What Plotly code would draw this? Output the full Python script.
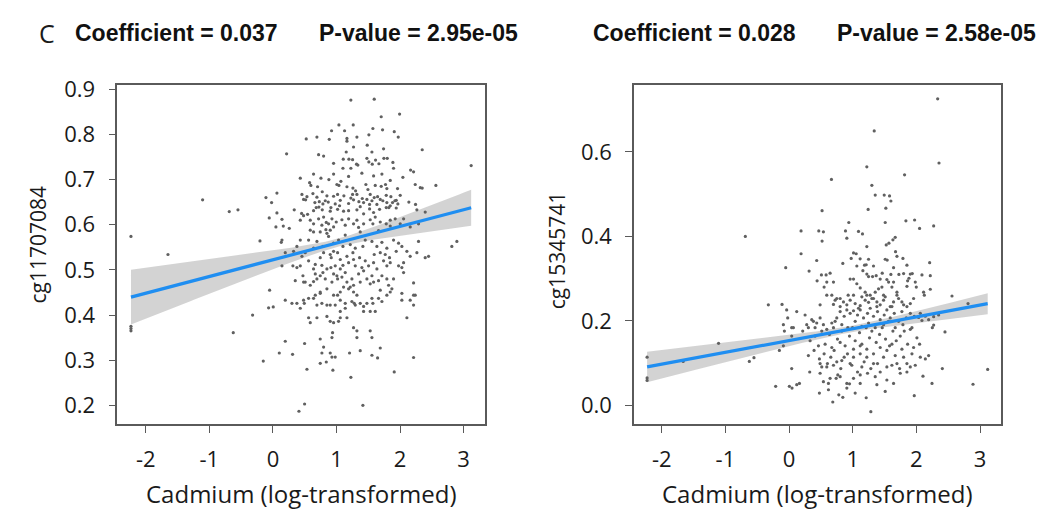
import numpy as np
import plotly.graph_objects as go

# ---- panel 1: cg11707084 vs log cadmium ----
cd_a = [-2.233, -2.233, -2.233, -2.233, -1.651, -1.106, -0.687, -0.550, -0.624, -0.320, -0.152, -0.204, -0.110, -0.021, 0.063, 0.215,
        -0.052, -0.068, 0.005, 0.100, 0.194, 0.309, 0.409, 0.498, 0.535, 0.498,
        1.226, 1.593, 1.703, 1.992, 0.524, 0.692, 0.886, 0.922, 1.038, 1.127, 1.263, 1.164, 1.164,
        1.321, 1.509, 1.572, 1.724, 1.908, 1.971, 1.483, 2.348, 3.118, 0.718, 0.797, 1.106, 1.195, 1.253, 1.315, 1.336,
        1.478, 1.509, 1.562, 1.614, 1.667, 1.745, 1.798, 1.887, 1.226, 1.101, 0.880, 1.190, 1.583, 2.044, 2.165, 2.212,
        0.597, 0.702, 1.006, 1.038, 1.164, 1.258, 1.300, 1.462, 1.494, 1.609, 1.703, 1.771, 1.792, 1.960,
        2.238, 2.317, 2.348, 2.563,
        0.456, 0.535, 0.629, 0.692, 0.776, 0.849, 0.954, 1.017, 1.116, 1.253, 1.321, 1.405,
        1.530, 1.593, 1.646, 1.782, 1.855, 1.939, 2.002,
        0.514, 0.660, 0.729, 0.786, 0.870, 0.980, 1.059, 1.190, 1.268, 1.352, 1.426, 1.520, 1.557, 1.635, 1.729, 1.792,
        1.881, 1.918, 2.138, 2.243,
        0.335, 0.451, 0.545, 0.639, 0.723, 0.776, 0.901, 1.017, 1.111, 1.190, 1.321, 1.426, 1.520, 1.583, 1.677, 1.782,
        1.845, 1.939, 2.264, 2.395,
        -0.058, 0.063, 0.142, 0.163, 0.047, 0.257,
        0.482, 0.587, 0.718, 0.797, 0.839, 0.875, 0.770, 0.901, 0.954, 0.996, 1.085, 1.190, 1.268, 1.347, 1.426, 1.530,
        1.609, 1.688, 1.782, 1.845, 1.923, 2.002, 2.159, 2.290,
        0.142, 0.131, 0.430, 0.561, 0.587, 0.639, 0.692, 0.849, 0.875, 0.954, 1.032, 1.137, 1.216, 1.295, 1.373, 1.452,
        1.557, 1.635, 1.714, 1.792, 1.897, 1.976, 2.028, 2.107, 2.290, 2.448, 2.814, 2.893,
        0.194, 0.325, 0.377, 0.314, 0.456, 0.561, 0.666, 0.744, 0.797, 0.901, 0.917, 1.017, 1.059, 1.164, 1.190, 1.268,
        1.363, 1.452, 1.504, 1.583, 1.688, 1.766, 1.845, 1.976, 2.055, 2.159, 2.264, 2.395, 0.142,
        0.351, 0.472, 0.508, 0.587, 0.666, 0.692, 0.744, 0.786, 0.849, 0.912, 0.954, 1.006, 1.017, 1.059, 1.137, 1.164,
        1.242, 1.268, 1.347, 1.426, 1.478, 1.557, 1.583, 1.661, 1.714, 1.792, 1.819, 2.055, 2.212, 2.212, 2.028, 2.159,
        2.238, 1.059, 1.111, 1.190, 1.268, 1.321, 0.849, 0.954, 0.744, 0.666, 0.561, 0.482, 0.377,
        0.194, 0.299, 0.430, 0.493, 0.561, 0.587, 0.692, 0.744, 0.849, 0.901, 0.980, 1.017, 1.059, 1.137, 1.164, 1.242,
        1.295, 1.373, 1.426, 1.478, 1.557, 1.609, 1.714, 1.792, 1.845, 1.871, 2.028, 2.107, 2.212, 0.849, 0.954, 1.032,
        0.938, 0.928, 1.321, 1.530, 1.557, 0.744, 0.770, 0.797, 0.901, 0.928, 0.980, 0.744, 0.839, 0.943, 1.205, 1.373,
        1.557, 1.646, 1.688, 2.212, 1.226, 1.415, 1.908, 1.321,
        0.639, 0.755, 0.954, 1.069, 1.399, 1.714, 1.845,
        0.482, 0.681, 0.823, 0.912, 1.048, 1.226, 1.373, 1.478, 1.688, 1.824, 1.965,
        0.430, 0.639, 0.744, 0.833, 0.928, 1.137, 1.321, 1.572, 1.661, 1.845, 2.055,
        0.377, 0.508, 0.639, 0.786, 0.954, 1.101, 1.258, 1.415, 1.593, 1.740, 1.834, 1.939,
        0.430, 0.639, 0.770, 0.980, 1.101, 1.295, 1.399, 1.635, 1.792, 2.028,
        0.482, 0.639, 0.823, 0.928, 1.085, 1.216, 1.373, 1.530, 1.688, 1.897,
        0.639, 0.770, 0.901, 1.059, 1.137, 1.279, 1.426, 1.572, 1.661,
        0.692, 1.059, 1.530, 1.268,
        0.430, 0.577, 1.268, 1.557, 1.740, 1.153, 0.954, 1.897]
cg_a = [0.574, 0.375, 0.370, 0.365, 0.534, 0.655, 0.629, 0.633, 0.361, 0.400, 0.298, 0.564, 0.660, 0.649, 0.670, 0.757,
        0.455, 0.416, 0.418, 0.316, 0.342, 0.313, 0.187, 0.203, 0.280, 0.337,
        0.876, 0.878, 0.839, 0.845, 0.790, 0.794, 0.789, 0.808, 0.821, 0.808, 0.821, 0.791, 0.785,
        0.794, 0.799, 0.813, 0.810, 0.806, 0.794, 0.776, 0.766, 0.731, 0.755, 0.752, 0.745, 0.745, 0.744, 0.734, 0.732,
        0.747, 0.739, 0.734, 0.743, 0.735, 0.747, 0.747, 0.738, 0.725, 0.725, 0.700, 0.707, 0.708, 0.705, 0.721, 0.717,
        0.687, 0.684, 0.689, 0.687, 0.684, 0.681, 0.675, 0.689, 0.678, 0.687, 0.685, 0.689, 0.680, 0.680,
        0.689, 0.682, 0.681, 0.687,
        0.667, 0.662, 0.669, 0.661, 0.673, 0.664, 0.663, 0.667, 0.664, 0.667, 0.667, 0.658,
        0.667, 0.660, 0.662, 0.665, 0.662, 0.654, 0.665,
        0.655, 0.649, 0.651, 0.646, 0.650, 0.646, 0.654, 0.647, 0.655, 0.651, 0.649, 0.645, 0.653, 0.645, 0.653, 0.649,
        0.649, 0.653, 0.650, 0.645,
        0.633, 0.625, 0.623, 0.631, 0.639, 0.633, 0.630, 0.634, 0.630, 0.631, 0.633, 0.624, 0.635, 0.627, 0.634, 0.638,
        0.642, 0.637, 0.633, 0.628,
        0.615, 0.626, 0.612, 0.597, 0.595, 0.592,
        0.620, 0.610, 0.613, 0.617, 0.605, 0.602, 0.599, 0.588, 0.595, 0.606, 0.611, 0.613, 0.602, 0.594, 0.602, 0.611,
        0.617, 0.606, 0.602, 0.610, 0.613, 0.602, 0.595, 0.602,
        0.566, 0.561, 0.566, 0.566, 0.588, 0.584, 0.563, 0.581, 0.574, 0.559, 0.566, 0.577, 0.556, 0.548, 0.584, 0.566,
        0.563, 0.552, 0.561, 0.548, 0.566, 0.559, 0.552, 0.541, 0.563, 0.530, 0.552, 0.563,
        0.538, 0.541, 0.505, 0.509, 0.530, 0.520, 0.512, 0.527, 0.538, 0.534, 0.527, 0.538, 0.523, 0.530, 0.516, 0.523,
        0.527, 0.520, 0.509, 0.516, 0.538, 0.534, 0.516, 0.509, 0.516, 0.530, 0.538, 0.527, 0.509,
        0.476, 0.487, 0.473, 0.466, 0.491, 0.480, 0.487, 0.494, 0.502, 0.505, 0.491, 0.487, 0.480, 0.502, 0.494, 0.473,
        0.480, 0.466, 0.491, 0.498, 0.480, 0.487, 0.473, 0.476, 0.487, 0.480, 0.466, 0.494, 0.471, 0.444, 0.433, 0.433,
        0.444, 0.451, 0.462, 0.458, 0.451, 0.444, 0.458, 0.444, 0.451, 0.444, 0.437, 0.433, 0.426,
        0.433, 0.426, 0.415, 0.426, 0.394, 0.383, 0.422, 0.448, 0.422, 0.386, 0.422, 0.444, 0.408, 0.426, 0.394, 0.430,
        0.422, 0.426, 0.408, 0.426, 0.437, 0.408, 0.430, 0.444, 0.451, 0.458, 0.448, 0.394, 0.422, 0.397, 0.383, 0.386,
        0.361, 0.350, 0.365, 0.365, 0.350, 0.347, 0.316, 0.329, 0.316, 0.307, 0.307, 0.293, 0.296, 0.278, 0.316, 0.321,
        0.311, 0.305, 0.327, 0.306, 0.262, 0.200, 0.274, 0.350,
        0.712, 0.703, 0.712, 0.696, 0.714, 0.712, 0.698,
        0.656, 0.638, 0.653, 0.638, 0.642, 0.659, 0.640, 0.656, 0.656, 0.638, 0.646,
        0.610, 0.602, 0.584, 0.589, 0.613, 0.599, 0.610, 0.602, 0.587, 0.597, 0.613,
        0.552, 0.538, 0.548, 0.552, 0.541, 0.552, 0.538, 0.552, 0.534, 0.520, 0.527, 0.541,
        0.509, 0.502, 0.510, 0.509, 0.510, 0.509, 0.505, 0.502, 0.509, 0.505,
        0.473, 0.474, 0.480, 0.473, 0.484, 0.462, 0.473, 0.469, 0.455, 0.480,
        0.437, 0.426, 0.422, 0.433, 0.415, 0.426, 0.419, 0.426, 0.437,
        0.394, 0.394, 0.408, 0.372,
        0.703, 0.693, 0.772, 0.761, 0.768, 0.761, 0.736, 0.725]

# ---- panel 2: cg15345741 vs log cadmium ----
cd_b = [2.335, 1.338, 2.356, 1.222, 1.815, 0.666, 1.301, 1.354, 1.495, 1.579, 1.600, 0.519, 1.243, 1.521, -0.687, 0.939,
        1.511, 1.836, 1.973, 2.051, 2.272, 0.189, 0.467, 0.540, 0.519, 0.887, 0.908, 1.091, 1.154, 1.527, 1.569, 1.632,
        1.668, 0.189, -0.052, 0.435, 0.315, 0.509, 0.582, 0.645, 0.441,
        0.845, 0.976, 1.055, 1.117, 1.186, 1.212, 1.249,
        1.511, 1.542, 1.673, 1.789, 1.852, 1.936, 2.088, 2.209, 2.219, 2.219,
        1.160, 1.249, 1.312, 1.369, 1.464, 1.537, 1.600, 1.726, 1.800, 1.884, 1.905,
        0.551, 0.593, 0.672, 0.724, 0.929, 1.013, 1.065, 1.118, 1.196,
        1.222, 1.301, 1.354, 1.406, 1.459, 1.511, 1.564, 1.616, 1.695, 1.863, 1.852, 1.983, 1.999, 2.114, 2.125,
        2.560, 2.812, -0.325, -0.110, -0.021, -0.037, 0.068, 0.042, 0.121, 0.252, 0.304, 0.357, 0.435,
        -0.089, -0.073, 0.042, -1.107, -1.663, -0.624, -0.551, -2.230, -2.230, -2.230, -0.152, -0.089,
        -0.210, 0.005, 0.047, 0.121, 0.163, 0.042,
        0.325, 0.488, 0.514, 0.593, 0.477, 0.619, 0.687, 0.782, 0.845,
        0.740, 0.766, 0.908, 0.950, 1.039, 1.212, 1.285, 1.511, 1.967, 2.104, 2.246, 2.408, 2.890, 3.121,
        2.450, 2.251, 2.272, 2.036, 2.088, 2.193, 2.272, 2.350,
        0.278, 0.383, 0.488, 0.540, 0.672, 0.750, 0.803, 0.866, 0.908, 0.960, 1.013, 1.076, 1.118, 1.170, 1.233, 1.275,
        1.327, 1.390, 1.432, 1.495, 1.537, 1.590, 1.653, 1.721, 1.773, 1.842, 1.905, 1.967, 2.062, 2.141,
        0.215, 0.331, 0.409, 0.514, 0.567, 0.635, 0.698, 0.761, 0.829, 0.881, 0.950, 0.997, 1.039, 1.107, 1.144, 1.212,
        1.264, 1.301, 1.369, 1.422, 1.464, 1.516, 1.579, 1.632, 1.684, 1.747, 1.810, 1.863, 1.931, 2.009, 2.051,
        0.304, 0.393, 0.477, 0.551, 0.603, 0.656, 0.708, 0.750, 0.813, 0.866, 0.918, 0.960, 1.013, 1.076, 1.118, 1.180,
        1.222, 1.285, 1.327, 1.390, 1.432, 1.485, 1.537, 1.616, 1.668, 1.737, 1.800, 1.852, 1.931, 1.983, 2.062, 2.141,
        2.193,
        0.803, 1.013, 1.118, 1.233, 1.354, 1.537, 1.747, 1.852, 0.540, 0.645,
        0.750, 0.855, 0.960, 1.039, 1.144, 1.249, 1.327, 1.432, 1.485, 1.642, 1.721, 1.905, 1.957, 0.698, 0.803, 1.118,
        1.380, 1.590, 1.800,
        0.593, 0.488, 0.803, 0.908, 1.013, 1.091, 1.196, 1.275, 1.380, 1.485, 1.616, 1.695, 1.773, 1.852,
        0.409, 0.593, 0.724, 0.829, 0.923, 1.039, 1.144, 1.249, 1.354, 1.485, 1.563, 1.668, 1.789, 1.905,
        0.462, 0.672, 0.803, 1.013, 1.118, 1.222, 1.432, 1.616, 1.773, 1.957,
        0.488, 0.698, 0.829, 0.986, 1.144, 1.327, 1.537, 1.695, 1.905,
        0.619, 0.908, 1.118, 1.380, 1.642,
        0.698, 0.960, 1.222, 1.432, 1.642, 1.065, 1.327, 1.642, 1.013, 1.695, 1.222]
cg_b = [0.726, 0.650, 0.574, 0.565, 0.546, 0.535, 0.521, 0.498, 0.498, 0.496, 0.484, 0.461, 0.464, 0.467, 0.400, 0.433,
        0.433, 0.437, 0.439, 0.419, 0.425, 0.413, 0.413, 0.411, 0.389, 0.413, 0.396, 0.412, 0.406, 0.380, 0.384, 0.392,
        0.398, 0.359, 0.326, 0.343, 0.318, 0.309, 0.309, 0.313, 0.295,
        0.336, 0.348, 0.359, 0.347, 0.332, 0.333, 0.346,
        0.346, 0.344, 0.364, 0.348, 0.332, 0.312, 0.309, 0.338, 0.307, 0.275,
        0.319, 0.305, 0.305, 0.307, 0.313, 0.298, 0.310, 0.310, 0.312, 0.301, 0.311,
        0.280, 0.292, 0.261, 0.249, 0.261, 0.299, 0.288, 0.278, 0.268,
        0.261, 0.253, 0.268, 0.276, 0.280, 0.257, 0.292, 0.280, 0.268, 0.295, 0.282, 0.292, 0.280, 0.268, 0.261,
        0.259, 0.241, 0.238, 0.239, 0.207, 0.226, 0.184, 0.164, 0.222, 0.214, 0.184, 0.203, 0.195,
        0.191, 0.176, 0.184, 0.147, 0.104, 0.104, 0.113, 0.114, 0.065, 0.059, 0.130, 0.141,
        0.045, 0.045, 0.041, 0.049, 0.052, 0.087,
        0.079, 0.076, 0.091, 0.091, 0.029, 0.037, 0.008, 0.025, 0.019,
        0.064, 0.072, 0.052, 0.051, 0.029, 0.018, -0.015, 0.033, 0.023, 0.069, 0.052, 0.087, 0.050, 0.085,
        0.174, 0.184, 0.190, 0.208, 0.201, 0.203, 0.210, 0.214,
        0.191, 0.199, 0.207, 0.191, 0.195, 0.207, 0.222, 0.211, 0.226, 0.218, 0.224, 0.214, 0.226, 0.207, 0.218, 0.230,
        0.211, 0.222, 0.203, 0.214, 0.226, 0.207, 0.218, 0.199, 0.222, 0.207, 0.218, 0.211, 0.218, 0.211,
        0.176, 0.153, 0.164, 0.176, 0.145, 0.168, 0.184, 0.157, 0.176, 0.141, 0.164, 0.184, 0.153, 0.172, 0.145, 0.184,
        0.160, 0.176, 0.149, 0.168, 0.184, 0.157, 0.141, 0.176, 0.153, 0.164, 0.176, 0.145, 0.184, 0.160, 0.145,
        0.118, 0.130, 0.110, 0.122, 0.099, 0.114, 0.130, 0.103, 0.087, 0.114, 0.122, 0.099, 0.114, 0.079, 0.122, 0.103,
        0.114, 0.087, 0.122, 0.099, 0.079, 0.114, 0.130, 0.095, 0.118, 0.087, 0.114, 0.099, 0.122, 0.095, 0.114, 0.110,
        0.118,
        0.068, 0.064, 0.072, 0.076, 0.068, 0.060, 0.076, 0.079, 0.056, 0.064,
        0.253, 0.245, 0.249, 0.241, 0.257, 0.244, 0.253, 0.238, 0.249, 0.245, 0.253, 0.241, 0.253, 0.239, 0.234, 0.236,
        0.234, 0.234, 0.238,
        0.261, 0.238, 0.253, 0.238, 0.261, 0.230, 0.249, 0.261, 0.245, 0.261, 0.234, 0.261, 0.245, 0.234,
        0.184, 0.180, 0.199, 0.191, 0.184, 0.199, 0.187, 0.195, 0.184, 0.191, 0.199, 0.184, 0.191, 0.180,
        0.141, 0.137, 0.149, 0.133, 0.141, 0.133, 0.137, 0.145, 0.133, 0.137,
        0.099, 0.095, 0.106, 0.095, 0.091, 0.099, 0.091, 0.099, 0.091,
        0.052, 0.041, 0.052, 0.049, 0.052,
        0.292, 0.299, 0.311, 0.299, 0.292, 0.330, 0.330, 0.326, 0.361, 0.353, 0.376]

# regression summaries shown in the panel headers
coef_a, pval_a, icpt_a = 0.037, "2.95e-05", 0.5223
coef_b, pval_b, icpt_b = 0.028, "2.58e-05", 0.1534
# 95% band: half-width at its narrowest point, growth rate, and where it is narrowest
band_a = (0.0090, 0.01844, 1.013)
band_b = (0.0077, 0.01104, 0.978)

x_ticks = [-2, -1, 0, 1, 2, 3]
y_ticks_a = [0.2, 0.3, 0.4, 0.5, 0.6, 0.7, 0.8, 0.9]
y_ticks_b = [0.0, 0.2, 0.4, 0.6]

LINE = "#1f8ef1"
BAND = "rgba(200,200,200,0.8)"
DOT = "#606060"
FRAME = "#5a5a5a"
TXT = "#1a1a1a"

fig = go.Figure()


def add_panel(xs, ys, coef, icpt, band, xa, ya):
    xs = np.asarray(xs)
    xg = np.linspace(xs.min(), xs.max(), 120)
    fit = icpt + coef * xg
    h0, g, c = band
    hw = np.sqrt(h0 ** 2 + (g * (xg - c)) ** 2)
    fig.add_trace(go.Scatter(x=np.concatenate([xg, xg[::-1]]),
                             y=np.concatenate([fit + hw, (fit - hw)[::-1]]),
                             fill="toself", fillcolor=BAND, line=dict(width=0),
                             mode="lines", hoverinfo="skip", showlegend=False,
                             xaxis=xa, yaxis=ya))
    fig.add_trace(go.Scatter(x=xs, y=ys, mode="markers",
                             marker=dict(size=3.2, color=DOT, line=dict(width=0)),
                             showlegend=False, xaxis=xa, yaxis=ya))
    fig.add_trace(go.Scatter(x=xg, y=fit, mode="lines",
                             line=dict(color=LINE, width=3.2),
                             showlegend=False, xaxis=xa, yaxis=ya))


add_panel(cd_a, cg_a, coef_a, icpt_a, band_a, "x", "y")
add_panel(cd_b, cg_b, coef_b, icpt_b, band_b, "x2", "y2")

tickfont = dict(family="Open Sans, Noto Sans, sans-serif", size=22, color=TXT)
axis_common = dict(showgrid=False, zeroline=False, showline=True, mirror=True,
                   linecolor=FRAME, linewidth=1.6, ticks="outside", ticklen=7,
                   tickwidth=1.4, tickcolor=FRAME, tickfont=tickfont)


def xaxis_cfg(domain, rng, anchor):
    return dict(domain=domain, range=rng, tickvals=x_ticks,
                ticktext=[str(v) for v in x_ticks], ticklabelstandoff=8,
                anchor=anchor, **axis_common)


def yaxis_cfg(rng, ticks, anchor):
    return dict(domain=[0.1843, 0.8549], range=rng, tickvals=ticks,
                ticktext=[f"{v:.1f}" for v in ticks], ticklabelstandoff=9,
                anchor=anchor, **axis_common)


fig.update_layout(
    width=1064, height=517, margin=dict(l=0, r=0, t=0, b=0),
    paper_bgcolor="white", plot_bgcolor="white",
    xaxis=xaxis_cfg([0.1103, 0.4558], [-2.447, 3.335], "y"),
    yaxis=yaxis_cfg([0.1589, 0.9087], y_ticks_a, "x"),
    xaxis2=xaxis_cfg([0.5959, 0.9408], [-2.435, 3.33], "y2"),
    yaxis2=yaxis_cfg([-0.044, 0.758], y_ticks_b, "x2"),
)

title_font = dict(family="Liberation Sans, Arial, sans-serif", size=23, color="#111111")
label_font = dict(family="Open Sans, Noto Sans, sans-serif", size=24, color=TXT)
ylab_font = dict(family="Open Sans, Noto Sans, sans-serif", size=21, color=TXT)
ann = [
    dict(text="C", x=37, y=21, xanchor="left", font=dict(family="Open Sans, sans-serif", size=25, color=TXT)),
    dict(text=f"<b>Coefficient = {coef_a:.3f}</b>", x=73, y=22, xanchor="left", font=title_font),
    dict(text=f"<b>P-value = {pval_a}</b>", x=317, y=22, xanchor="left", font=title_font),
    dict(text=f"<b>Coefficient = {coef_b:.3f}</b>", x=591, y=22, xanchor="left", font=title_font),
    dict(text=f"<b>P-value = {pval_b}</b>", x=835, y=22, xanchor="left", font=title_font),
    dict(text="Cadmium (log-transformed)", x=301, y=493, xanchor="center", font=label_font),
    dict(text="Cadmium (log-transformed)", x=817, y=493, xanchor="center", font=label_font),
    dict(text="cg11707084", x=38, y=238, xanchor="center", textangle=-90, font=ylab_font),
    dict(text="cg15345741", x=557, y=244, xanchor="center", textangle=-90, font=ylab_font),
]
for a in ann:
    a.update(xref="paper", yref="paper", showarrow=False, yanchor="middle")
    a["x"] = a["x"] / 1064
    a["y"] = 1 - a["y"] / 517
fig.update_layout(annotations=ann)

fig.write_html("out.html")
